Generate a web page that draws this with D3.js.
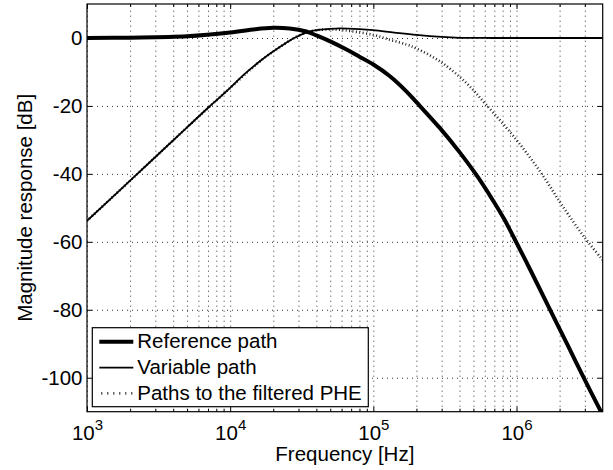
<!DOCTYPE html>
<html>
<head>
<meta charset="utf-8">
<script src="https://cdn.jsdelivr.net/npm/d3@7"></script>
<style>
  body { margin: 0; background: #fff; }
  text { font-family: "Liberation Sans", Arial, Helvetica, sans-serif; fill: #000; }
</style>
</head>
<body>
<div id="chart"></div>

<script>
  // values (frequency in Hz, magnitude in dB)
  var freqRef = [1e3, 2e3, 5e3, 1e4, 1.5e4, 2e4, 2.6e4, 3.4e4, 4e4, 5e4, 6.5e4, 8e4, 1e5, 1.3e5, 1.7e5, 2e5, 2.9e5, 4e5, 5.2e5, 6.8e5, 8.2e5, 9.6e5, 1.25e6, 1.66e6, 2.3e6, 2.9e6, 4e6]
  var dbRef   = [0, 0.1, 0.5, 1.6, 2.6, 3.0, 2.8, 1.9, 0.76, -1.0, -3.4, -5.5, -7.8, -11.2, -15.7, -18.9, -26.4, -33.6, -40.1, -47.6, -53.3, -58.8, -68.3, -78.8, -90.8, -99.4, -111.0]

  var freqVar = [1e3, 2e3, 5e3, 7.2e3, 1e4, 1.23e4, 1.69e4, 2.33e4, 2.8e4, 3.4e4, 4e4, 4.9e4, 5.8e4, 8e4, 1e5, 1.4e5, 2e5, 3e5, 4e5, 6e5, 1e6, 4e6]
  var dbVar   = [-53.8, -42.0, -26.3, -20.1, -14.7, -11.0, -6.2, -2.1, 0.0, 1.6, 2.3, 2.65, 2.8, 2.6, 2.3, 1.6, 0.9, 0.3, 0.05, 0, 0, 0]

  var freqPhe = [1e3, 2e3, 5e3, 1e4, 1.69e4, 2.33e4, 2.8e4, 3.4e4, 4e4, 4.9e4, 5.8e4, 7e4, 1e5, 1.3e5, 1.7e5, 2e5, 2.9e5, 4.4e5, 6.1e5, 1e6, 1.5e6, 2.1e6, 3e6, 4e6]
  var dbPhe   = [-53.8, -42.0, -26.3, -14.7, -6.2, -2.1, 0.0, 1.6, 2.3, 2.5, 2.4, 2.0, 0.9, -0.5, -1.9, -3.1, -6.8, -13.0, -19.5, -30.0, -40.0, -49.5, -58.8, -65.3]

  var xMajor = [1e3, 1e4, 1e5, 1e6]
  var xMajorExp = ['3', '4', '5', '6']
  var xMinor = [2e3, 3e3, 4e3, 5e3, 6e3, 7e3, 8e3, 9e3,
                2e4, 3e4, 4e4, 5e4, 6e4, 7e4, 8e4, 9e4,
                2e5, 3e5, 4e5, 5e5, 6e5, 7e5, 8e5, 9e5,
                2e6, 3e6]
  var yTicks = [-100, -80, -60, -40, -20, 0]

  var legendLabels = ['Reference path', 'Variable path', 'Paths to the filtered PHE']

  var fontSize = '20.5px'

  var margin = {top: 4, right: 10.3, bottom: 58.3, left: 87}
  var width = 613 - margin.left - margin.right
  var height = 470 - margin.top - margin.bottom

  var root = d3.select('#chart')
               .append('svg')
               .attr('width', 613)
               .attr('height', 470)
  root.append('rect').attr('width', 613).attr('height', 470).attr('fill', '#fff')

  var svg = root.append('g')
                .attr('transform', 'translate(' + margin.left + ',' + margin.top + ')')

  var x = d3.scaleLog().domain([1e3, 4e6]).range([0, width])
  var y = d3.scaleLinear().domain([-110, 10]).range([height, 0])

  svg.append('clipPath').attr('id', 'plot-clip')
     .append('rect').attr('width', width).attr('height', height)

  // dotted grid
  function styleGrid(g) {
    g.select('.domain').remove()
    g.selectAll('.tick line')
     .attr('stroke', '#333')
     .attr('stroke-width', 1)
     .attr('stroke-dasharray', '1,4')
  }

  svg.append('g')
     .attr('transform', 'translate(0,' + height + ')')
     .call(d3.axisBottom(x).tickValues(xMajor.concat(xMinor)).tickSize(-height).tickFormat(''))
     .call(styleGrid)

  svg.append('g')
     .call(d3.axisLeft(y).tickValues(yTicks).tickSize(-width).tickFormat(''))
     .call(styleGrid)

  // curves
  var line = d3.line()
               .x(function(d) { return x(d[0]) })
               .y(function(d) { return y(d[1]) })
               .curve(d3.curveCatmullRom.alpha(0.5))

  var series = [
    {f: freqPhe, v: dbPhe, w: 2.6, dash: '1,2.4', color: '#222'},
    {f: freqVar, v: dbVar, w: 1.8, dash: null, color: '#000'},
    {f: freqRef, v: dbRef, w: 4, dash: null, color: '#000'}
  ]

  var plot = svg.append('g').attr('clip-path', 'url(#plot-clip)')
  plot.selectAll('path')
      .data(series)
      .enter()
      .append('path')
      .attr('d', function(s) { return line(d3.zip(s.f, s.v)) })
      .attr('fill', 'none')
      .attr('stroke', function(s) { return s.color })
      .attr('stroke-width', function(s) { return s.w })
      .attr('stroke-dasharray', function(s) { return s.dash })
      .attr('stroke-linejoin', 'round')

  // ticks on all four sides, pointing inwards
  function styleAxis(g) {
    g.select('.domain').remove()
    g.selectAll('.tick line').attr('stroke', '#000').attr('stroke-width', 1)
    g.selectAll('text').style('font-size', fontSize)
  }

  var bottom = svg.append('g')
     .attr('transform', 'translate(0,' + height + ')')
     .call(d3.axisBottom(x).tickValues(xMajor).tickSize(-5).tickFormat(''))
     .call(styleAxis)

  bottom.selectAll('.tick')
        .append('text')
        .attr('y', 28.3)
        .attr('text-anchor', 'middle')
        .style('font-size', fontSize)
        .each(function(d, i) {
          var t = d3.select(this)
          t.append('tspan').text('10')
          t.append('tspan').attr('dy', -10).style('font-size', '15px').text(xMajorExp[i])
        })

  svg.append('g')
     .attr('transform', 'translate(0,' + height + ')')
     .call(d3.axisBottom(x).tickValues(xMinor).tickSize(-3).tickFormat(''))
     .call(styleAxis)

  svg.append('g')
     .call(d3.axisTop(x).tickValues(xMajor).tickSize(-5).tickFormat(''))
     .call(styleAxis)

  svg.append('g')
     .call(d3.axisTop(x).tickValues(xMinor).tickSize(-3).tickFormat(''))
     .call(styleAxis)

  svg.append('g')
     .call(d3.axisLeft(y).tickValues(yTicks).tickSize(-5).tickPadding(4.5)
             .tickFormat(function(d) { return String(d) }))
     .call(styleAxis)

  svg.append('g')
     .attr('transform', 'translate(' + width + ',0)')
     .call(d3.axisRight(y).tickValues(yTicks).tickSize(-5).tickFormat(''))
     .call(styleAxis)

  svg.append('rect')
     .attr('width', width)
     .attr('height', height)
     .attr('fill', 'none')
     .attr('stroke', '#000')
     .attr('stroke-width', 1.2)

  // axis titles
  svg.append('text')
     .attr('x', width / 2)
     .attr('y', 457)
     .attr('text-anchor', 'middle')
     .style('font-size', fontSize)
     .text('Frequency [Hz]')

  svg.append('text')
     .attr('transform', 'translate(-55.5,' + (height / 2) + ') rotate(-90)')
     .attr('text-anchor', 'middle')
     .style('font-size', fontSize)
     .text('Magnitude response [dB]')

  // legend
  var legend = svg.append('g')
                  .attr('transform', 'translate(5.3,323.7)')

  legend.append('rect')
        .attr('width', 276)
        .attr('height', 79)
        .attr('fill', '#fff')
        .attr('stroke', '#000')
        .attr('stroke-width', 1.2)

  var legendStyles = [series[2], series[1], series[0]]

  var rows = legend.selectAll('g.row')
                   .data(legendLabels)
                   .enter()
                   .append('g')
                   .attr('class', 'row')
                   .attr('transform', function(d, i) { return 'translate(0,' + (20.6 + i * 25.8) + ')' })

  rows.append('line')
      .attr('x1', 7)
      .attr('x2', 41)
      .attr('y1', -6.5)
      .attr('y2', -6.5)
      .attr('stroke', function(d, i) { return legendStyles[i].color })
      .attr('stroke-width', function(d, i) { return legendStyles[i].w })
      .attr('stroke-dasharray', function(d, i) { return legendStyles[i].dash ? '1,5' : null })
      .attr('stroke-dashoffset', -2)

  rows.append('text')
      .attr('x', 45)
      .style('font-size', fontSize)
      .text(function(d) { return d })
</script>
</body>
</html>
